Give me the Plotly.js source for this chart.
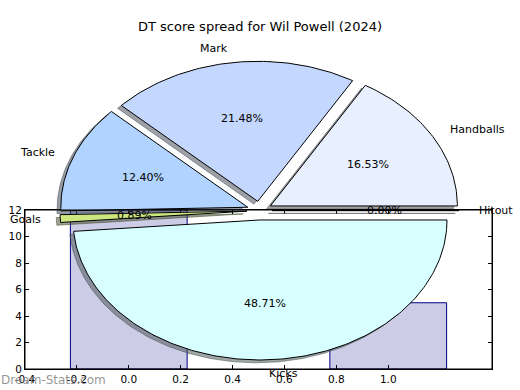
<!DOCTYPE html>
<html><head><meta charset="utf-8">
<script src="https://cdn.plot.ly/plotly-3.0.1.min.js"></script>
<style>html,body{margin:0;padding:0;background:#fff}#chart{width:520px;height:390px}</style>
</head><body><div id="chart"></div>
<script>
// ---- data ----
const categories = ["Handballs", "Mark", "Tackle", "Goals", "Kicks", "Hitout"];
const sharePct = [16.53, 21.48, 12.40, 0.89, 48.71, 0.00];
const sliceColors = ["#e8f0ff", "#c4d8ff", "#b0d4ff", "#cce680", "#d8ffff", "#f0e0ff"];
const barX = [0, 1];
const barValues = [12, 5];
const xTickVals = [-0.4, -0.2, 0.0, 0.2, 0.4, 0.6, 0.8, 1.0];
const xTickText = ["-0.4", "-0.2", "0.0", "0.2", "0.4", "0.6", "0.8", "1.0"];
const yTickVals = [0, 2, 4, 6, 8, 10, 12];
const titleText = "DT score spread for Wil Powell (2024)";
const watermark = "Dream-Stats.com";

// ---- layout constants (pixels) ----
const W = 520, H = 390;
const cx0 = 259.5, cy0 = 210.6, rx = 187, ry = 140;
const explode = 0.067, labelDist = 1.1, pctDist = 0.6, shadowOff = 0.02;
const FONT = "DejaVu Sans, sans-serif";

function hexToRgb(h){ const n = parseInt(h.slice(1),16); return [(n>>16)&255,(n>>8)&255,n&255]; }

const total = sharePct.reduce((a,b)=>a+b,0);
const shadowTraces = [], wedgeTraces = [], annotations = [];
let t1 = 0;
sharePct.forEach((v,i)=>{
  const t2 = t1 + 360*v/total;
  const mid = (t1+t2)/2*Math.PI/180;
  const cx = explode*Math.cos(mid), cy = explode*Math.sin(mid);
  const xs = [cx], ys = [cy];
  const n = Math.max(2, Math.ceil((t2-t1)/1));
  for(let k=0;k<=n;k++){
    const a = (t1 + (t2-t1)*k/n)*Math.PI/180;
    xs.push(cx+Math.cos(a)); ys.push(cy+Math.sin(a));
  }
  xs.push(cx); ys.push(cy);
  const rgb = hexToRgb(sliceColors[i]).map(c=>Math.round(c*0.3));
  const sc = `rgba(${rgb[0]},${rgb[1]},${rgb[2]},0.5)`;
  shadowTraces.push({type:"scatter", mode:"lines", x:xs.map(x=>x-shadowOff), y:ys.map(y=>y-shadowOff),
    fill:"toself", fillcolor:sc, line:{color:sc, width:1}, xaxis:"x2", yaxis:"y2", hoverinfo:"skip"});
  wedgeTraces.push({type:"scatter", mode:"lines", x:xs, y:ys, fill:"toself", fillcolor:sliceColors[i],
    line:{color:"#000", width:1}, xaxis:"x2", yaxis:"y2", hoverinfo:"skip"});
  const lx = cx + labelDist*Math.cos(mid), ly = cy + labelDist*Math.sin(mid);
  annotations.push({xref:"x2", yref:"y2", x:lx, y:ly, text:categories[i], showarrow:false,
    xanchor: lx>0 ? "left" : "right", yanchor:"middle", borderpad:0, font:{family:FONT, size:11, color:"#000"}});
  const px = cx + pctDist*Math.cos(mid), py = cy + pctDist*Math.sin(mid);
  annotations.push({xref:"x2", yref:"y2", x:px, y:py, text:v.toFixed(2)+"%", showarrow:false,
    xanchor:"center", yanchor:"middle", borderpad:0, font:{family:FONT, size:11, color:"#000"}});
  t1 = t2;
});

annotations.push({xref:"paper", yref:"paper", x:0, y:1-380/H, xanchor:"left", yanchor:"middle",
  text:watermark, showarrow:false, borderpad:0, font:{family:FONT, size:12, color:"rgba(130,130,130,0.85)"}});

const barTrace = {type:"bar", x:barX, y:barValues, width:0.45, xaxis:"x", yaxis:"y",
  marker:{color:"rgba(0,0,128,0.2)", line:{color:"#000080", width:1}}, hoverinfo:"skip"};

const axFont = {family:FONT, size:10.5, color:"#000"};
const layout = {
  width:W, height:H, margin:{l:0,r:0,t:0,b:0}, showlegend:false,
  paper_bgcolor:"#fff", plot_bgcolor:"rgba(0,0,0,0)",
  title:{text:titleText, x:0.5, xanchor:"center", y:1-26/H, yanchor:"middle", yref:"container",
    font:{family:FONT, size:13, color:"#000"}},
  xaxis:{domain:[25/W, 492/W], anchor:"y", range:[-0.4,1.4], tickvals:xTickVals, ticktext:xTickText,
    ticks:"inside", ticklen:4, tickcolor:"#000", mirror:"ticks", showline:true, linecolor:"#000", linewidth:1,
    showgrid:false, zeroline:false, tickfont:axFont, fixedrange:true},
  yaxis:{domain:[1-369/H, 1-210/H], anchor:"x", range:[0,12], tickvals:yTickVals,
    ticks:"inside", ticklen:4, tickcolor:"#000", mirror:"ticks", showline:true, linecolor:"#000", linewidth:1,
    showgrid:false, zeroline:false, tickfont:axFont, fixedrange:true},
  xaxis2:{domain:[0,1], anchor:"y2", range:[(0-cx0)/rx, (W-cx0)/rx], visible:false, fixedrange:true},
  yaxis2:{domain:[0,1], anchor:"x2", range:[(cy0-H)/ry, cy0/ry], visible:false, fixedrange:true},
  shapes:[{type:"rect", xref:"x domain", yref:"y domain", x0:0, x1:1, y0:0, y1:1,
    line:{color:"#000", width:1}, fillcolor:"rgba(0,0,0,0)", layer:"above"}],
  annotations:annotations
};

Plotly.newPlot("chart", [barTrace, ...shadowTraces, ...wedgeTraces], layout, {staticPlot:true, displayModeBar:false});
</script></body></html>
